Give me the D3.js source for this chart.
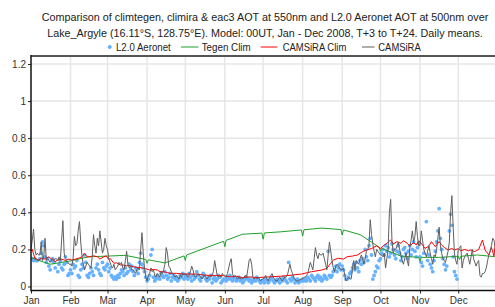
<!DOCTYPE html>
<html>
<head>
<meta charset="utf-8">
<script src="https://cdn.jsdelivr.net/npm/d3@7"></script>
<style>
  body { margin: 0; background: #ffffff; }
  svg  { display: block; font-family: "Liberation Sans", Arial, Helvetica, sans-serif; }
</style>
</head>
<body>
<svg id="chart" width="495" height="307"></svg>
<script>
// ---- chart text ----
const titleLines = [
  "Comparison of climtegen, climira & eac3 AOT at 550nm and L2.0 Aeronet AOT at 500nm over",
  "Lake_Argyle (16.11°S, 128.75°E). Model: 00UT, Jan - Dec 2008, T+3 to T+24. Daily means."
];
const seriesNames = ["L2.0 Aeronet", "Tegen Clim", "CAMSiRA Clim", "CAMSiRA"];
const monthLabels = ["Jan","Feb","Mar","Apr","May","Jun","Jul","Aug","Sep","Oct","Nov","Dec"];
const yTicks = [0, 0.2, 0.4, 0.6, 0.8, 1, 1.2];

// ---- CAMSiRA daily means, 1 Jan .. 31 Dec 2008 (one row per month) ----
const camsira = [
  0.20,0.25,0.31,0.20,0.17,0.18,0.17,0.17,0.24,0.14,0.16,0.26,0.14,0.15,0.14,0.13,0.14,0.15,0.14,0.15,0.15,0.14,0.16,0.14,0.25,0.355,0.18,0.15,0.14,0.13,0.12,
  0.12,0.11,0.15,0.27,0.22,0.23,0.30,0.35,0.24,0.16,0.12,0.09,0.11,0.13,0.12,0.11,0.10,0.16,0.28,0.22,0.18,0.26,0.22,0.30,0.24,0.18,0.20,0.26,0.22,
  0.20,0.15,0.13,0.11,0.10,0.12,0.09,0.10,0.11,0.13,0.12,0.13,0.10,0.09,0.14,0.19,0.12,0.10,0.11,0.09,0.09,0.08,0.07,0.09,0.10,0.09,0.20,0.29,0.18,0.10,0.05,
  0.03,0.06,0.07,0.10,0.08,0.09,0.06,0.05,0.07,0.06,0.05,0.08,0.07,0.09,0.12,0.21,0.18,0.11,0.10,0.08,0.07,0.06,0.05,0.06,0.05,0.04,0.06,0.05,0.07,0.06,
  0.07,0.06,0.05,0.06,0.08,0.11,0.09,0.06,0.05,0.06,0.07,0.06,0.05,0.04,0.05,0.06,0.05,0.04,0.05,0.06,0.05,0.06,0.08,0.14,0.10,0.06,0.05,0.06,0.05,0.07,0.06,
  0.06,0.05,0.07,0.10,0.13,0.15,0.07,0.05,0.06,0.05,0.04,0.05,0.04,0.05,0.04,0.05,0.06,0.05,0.09,0.14,0.15,0.12,0.05,0.04,0.05,0.04,0.05,0.04,0.03,0.04,
  0.04,0.05,0.06,0.04,0.03,0.05,0.06,0.07,0.05,0.04,0.03,0.03,0.04,0.05,0.04,0.03,0.04,0.05,0.05,0.06,0.09,0.12,0.09,0.07,0.05,0.04,0.03,0.03,0.03,0.04,0.04,
  0.04,0.05,0.05,0.06,0.07,0.10,0.13,0.11,0.09,0.15,0.21,0.17,0.15,0.18,0.17,0.17,0.18,0.15,0.12,0.09,0.17,0.24,0.19,0.14,0.10,0.08,0.11,0.12,0.11,0.10,0.09,
  0.09,0.10,0.06,0.03,0.04,0.05,0.04,0.04,0.09,0.14,0.09,0.14,0.13,0.12,0.15,0.17,0.15,0.12,0.15,0.19,0.20,0.22,0.36,0.28,0.23,0.19,0.16,0.20,0.19,0.18,
  0.17,0.17,0.16,0.18,0.10,0.15,0.20,0.40,0.47,0.25,0.18,0.20,0.20,0.22,0.24,0.20,0.17,0.14,0.12,0.15,0.18,0.14,0.11,0.21,0.25,0.30,0.24,0.27,0.35,0.27,0.22,
  0.22,0.30,0.25,0.20,0.18,0.16,0.19,0.22,0.18,0.15,0.12,0.17,0.16,0.20,0.26,0.32,0.22,0.18,0.15,0.14,0.13,0.16,0.19,0.24,0.40,0.49,0.32,0.18,0.14,0.12,
  0.20,0.21,0.22,0.10,0.14,0.16,0.17,0.18,0.15,0.12,0.16,0.20,0.15,0.13,0.11,0.13,0.14,0.06,0.05,0.07,0.07,0.08,0.10,0.14,0.17,0.19,0.22,0.26,0.25,0.21,0.24
];

// ---- L2.0 Aeronet daily means from 1 Jan (null = no obs, none in Dec) ----
const aeronet = [
  null,0.15,0.14,0.15,0.14,0.14,null,0.15,0.18,0.24,0.22,0.16,0.13,0.15,0.11,0.09,0.14,0.15,0.13,0.10,null,0.08,0.12,0.14,0.10,0.09,0.12,0.16,0.13,0.06,0.07,
  0.09,0.07,0.12,0.10,0.11,0.14,0.06,0.05,0.09,0.12,0.10,0.17,0.13,0.06,0.05,0.07,0.10,0.08,0.06,null,0.10,0.12,0.09,0.07,0.06,0.13,0.10,0.09,0.11,
  0.12,0.08,0.10,0.06,0.05,0.04,0.05,0.04,0.06,0.05,0.07,0.09,0.08,0.06,0.10,0.07,0.08,0.12,0.09,0.11,0.08,0.06,0.10,0.09,0.07,0.13,0.18,0.12,0.10,0.08,0.05,
  0.03,0.04,0.06,0.17,0.20,0.05,0.03,0.04,0.06,0.05,0.04,0.07,0.06,0.05,0.08,0.06,0.04,0.05,0.07,0.03,0.05,0.06,0.04,0.05,0.03,0.04,0.06,0.05,0.07,0.04,
  0.05,0.06,0.04,0.07,0.05,0.03,0.06,0.04,0.05,0.08,0.06,0.04,0.03,0.05,0.07,0.06,0.04,0.03,0.05,0.04,0.06,0.02,0.04,0.05,0.03,0.04,0.06,0.05,0.02,0.03,0.04,
  0.04,0.03,0.05,0.04,0.06,0.04,0.03,0.05,0.04,0.03,0.04,0.05,0.03,0.04,0.02,0.03,0.04,0.05,0.04,0.03,0.04,0.02,0.03,0.04,0.03,0.05,0.04,0.03,0.02,0.03,
  0.03,0.02,0.04,0.03,0.02,0.03,0.04,0.05,0.03,0.02,0.03,0.04,0.03,0.02,0.04,0.03,0.05,0.04,0.03,0.02,0.13,0.04,0.03,0.05,0.04,0.02,0.03,0.04,0.02,0.03,0.03,
  0.04,0.03,0.04,0.03,0.05,0.04,0.03,0.06,0.05,0.04,0.03,0.05,0.06,0.04,0.05,0.03,0.04,0.06,0.05,0.04,0.19,0.06,0.05,0.06,0.08,0.09,0.11,0.08,0.10,0.12,0.09,
  0.11,0.09,0.06,0.04,0.04,0.05,0.07,0.08,0.10,0.12,0.09,0.13,0.10,0.08,0.14,0.12,0.15,0.13,0.20,0.16,0.14,0.22,0.26,0.17,0.04,0.06,0.08,0.11,0.10,0.14,
  0.15,0.18,0.20,0.17,0.22,0.19,0.21,0.16,0.18,0.23,0.20,0.17,0.15,0.19,0.22,0.18,0.14,0.16,0.20,0.21,0.18,0.15,0.19,0.22,0.17,0.20,0.24,0.19,0.16,0.21,0.23,
  0.16,0.13,0.11,0.18,null,0.35,0.14,0.17,0.12,0.10,0.08,0.14,0.19,0.24,0.30,0.42,0.26,0.20,0.15,0.12,0.09,0.11,null,0.30,0.39,0.33,0.16,0.08,0.06,0.04
];

// ---- CAMSiRA Clim, read at day-of-year positions ----
const climDays = [0,1,3,6,8,11,14,16,19,21,24,27,29,32,35,37,40,42,44,46,49,52,54,57,59,61,62,65,67,70,72,75,78,80,83,85,88,91,93,96,99,101,104,106,109,114,119,125,130,135,140,146,151,156,161,166,172,177,182,189,197,205,212,220,228,232,235,237,241,245,248,252,256,260,263,267,271,274,277,279,282,284,287,290,292,295,297,300,302,304,307,309,312,314,317,320,322,324,327,330,332,335,337,340,343,345,348,351,354,356,359,361,363,364,365];
const climVals = [0.19,0.20,0.152,0.143,0.152,0.148,0.16,0.148,0.134,0.143,0.148,0.14,0.148,0.143,0.148,0.152,0.16,0.179,0.16,0.16,0.166,0.16,0.148,0.16,0.165,0.145,0.152,0.125,0.128,0.116,0.116,0.112,0.112,0.107,0.103,0.103,0.098,0.094,0.089,0.092,0.089,0.08,0.08,0.076,0.071,0.071,0.067,0.067,0.067,0.062,0.06,0.06,0.058,0.052,0.055,0.048,0.052,0.048,0.05,0.053,0.056,0.062,0.067,0.08,0.089,0.098,0.125,0.143,0.152,0.148,0.161,0.164,0.17,0.188,0.197,0.205,0.219,0.205,0.224,0.233,0.251,0.229,0.242,0.233,0.247,0.233,0.219,0.237,0.224,0.247,0.224,0.205,0.219,0.242,0.215,0.242,0.224,0.211,0.197,0.205,0.197,0.204,0.193,0.2,0.193,0.197,0.188,0.2,0.251,0.197,0.17,0.211,0.164,0.23,0.19];

// ---- Tegen Clim, read at day-of-year positions ----
const tegenDays = [0,15,31,45,60,74,90,91,92,105,120,121,122,151,152,153,166,181,182,183,196,212,213,214,228,243,244,245,258,273,274,275,290,304,305,306,320,335,336,337,350,365];
const tegenVals = [0.155,0.12,0.138,0.16,0.164,0.168,0.146,0.125,0.144,0.127,0.165,0.14,0.17,0.244,0.215,0.249,0.282,0.288,0.255,0.289,0.295,0.305,0.272,0.306,0.315,0.307,0.278,0.305,0.28,0.212,0.19,0.205,0.164,0.157,0.135,0.157,0.157,0.163,0.145,0.163,0.17,0.16];

// ---- layout ----
const W = 495, H = 307;
const plotL = 31, plotT = 56, plotB = 290.5, plotR = 497.8;
const cAero = "#66b2ff", cTegen = "#1fa12a", cClim = "#ff0000", cCams = "#5f5f5f";
const t0 = new Date(2008, 0, 1);
const dayDate = (d)=>{ return d3.timeDay.offset(t0, d); };

const svg = d3.select("#chart");

const x = d3.scaleTime()
            .domain([t0, new Date(2009, 0, 1)])
            .range([plotL, plotR]);
const y = d3.scaleLinear()
            .domain([0, 1.2])
            .range([286.5, 64]);

svg.append("defs").append("clipPath").attr("id", "plotClip")
   .append("rect")
      .attr("x", plotL).attr("y", plotT)
      .attr("width", W - plotL).attr("height", plotB - plotT);

// grid lines
const monthDates = d3.range(12).map((m)=>{ return new Date(2008, m, 1); });
const grid = svg.append("g").attr("stroke", "#e6e6e6").attr("stroke-width", 1.5);
grid.selectAll("line.h").data(yTicks).enter().append("line")
    .attr("x1", plotL).attr("x2", W)
    .attr("y1", (d)=>{ return y(d); }).attr("y2", (d)=>{ return y(d); });
grid.selectAll("line.v").data(monthDates.slice(1)).enter().append("line")
    .attr("x1", (d)=>{ return x(d); }).attr("x2", (d)=>{ return x(d); })
    .attr("y1", plotT).attr("y2", plotB);

// data layers
const plot = svg.append("g").attr("clip-path", "url(#plotClip)");

const aeroPts = aeronet.map((v, i)=>{ return { date: dayDate(i), v: v }; })
                       .filter((d)=>{ return d.v !== null; });
plot.append("g").selectAll("circle")
    .data(aeroPts).enter().append("circle")
      .attr("cx", (d)=>{ return x(d.date); })
      .attr("cy", (d)=>{ return y(d.v); })
      .attr("r", 1.9)
      .attr("fill", cAero);

const line = d3.line()
               .x((d)=>{ return x(d.date); })
               .y((d)=>{ return y(d.v); });

const tegenPts = tegenDays.map((d, i)=>{ return { date: dayDate(d), v: tegenVals[i] }; });
const climPts  = climDays.map((d, i)=>{ return { date: dayDate(d), v: climVals[i] }; });
const camsPts  = camsira.map((v, i)=>{ return { date: dayDate(i), v: v }; });

plot.append("path").datum(tegenPts).attr("d", line)
    .attr("fill", "none").attr("stroke", cTegen).attr("stroke-width", 1);
plot.append("path").datum(climPts).attr("d", line)
    .attr("fill", "none").attr("stroke", cClim).attr("stroke-width", 1);
plot.append("path").datum(camsPts).attr("d", line)
    .attr("fill", "none").attr("stroke", cCams).attr("stroke-width", 1);

// axes
const yAxis = d3.axisLeft(y).tickValues(yTicks).tickSize(3).tickPadding(2)
                .tickFormat((d)=>{ return d3.format("~g")(d); });
const xAxis = d3.axisBottom(x).tickValues(monthDates).tickSize(3).tickPadding(3)
                .tickFormat((d, i)=>{ return monthLabels[i]; });

const gy = svg.append("g").attr("transform", "translate(" + plotL + ",0)").call(yAxis);
const gx = svg.append("g").attr("transform", "translate(0," + plotB + ")").call(xAxis);
[gx, gy].forEach((g)=>{
  g.select(".domain").remove();
  g.selectAll("line").attr("stroke", "#222").attr("stroke-width", 1);
  g.selectAll("text").attr("fill", "#333").style("font-size", "10px")
   .style("font-family", "'Liberation Sans', Arial, sans-serif");
});

// frame
svg.append("line").attr("x1", plotL).attr("x2", W).attr("y1", plotT).attr("y2", plotT)
   .attr("stroke", "#555").attr("stroke-width", 2);
svg.append("line").attr("x1", plotL).attr("x2", W).attr("y1", plotB).attr("y2", plotB)
   .attr("stroke", "#111").attr("stroke-width", 1.5);
svg.append("line").attr("x1", plotL).attr("x2", plotL).attr("y1", plotT - 1).attr("y2", plotB + 0.75)
   .attr("stroke", "#111").attr("stroke-width", 1.5);

// title (widths matched to the reference with textLength)
const titleWidths = [446.6, 435.6];
svg.append("g").selectAll("text").data(titleLines).enter().append("text")
   .attr("x", 265).attr("y", (d, i)=>{ return 21.3 + i * 15.6; })
   .attr("text-anchor", "middle")
   .attr("textLength", (d, i)=>{ return titleWidths[i]; })
   .attr("lengthAdjust", "spacingAndGlyphs")
   .attr("fill", "#222").style("font-size", "10.2px")
   .text((d)=>{ return d; });

// legend
const legY = 47;
const lg = svg.append("g").style("font-size", "10.2px").attr("fill", "#222");
lg.append("circle").attr("cx", 109.7).attr("cy", legY).attr("r", 2).attr("fill", cAero);
lg.append("text").attr("x", 116).attr("y", legY + 3.5)
  .attr("textLength", 54.7).attr("lengthAdjust", "spacingAndGlyphs").text(seriesNames[0]);
[[181, 198.3, cTegen, 201.7, 49, seriesNames[1]],
 [260.7, 277.3, cClim, 282.7, 63.6, seriesNames[2]],
 [362, 374.5, cCams, 378.3, 42.4, seriesNames[3]]].forEach((it)=>{
  lg.append("line").attr("x1", it[0]).attr("x2", it[1]).attr("y1", legY).attr("y2", legY)
    .attr("stroke", it[2]).attr("stroke-width", 1);
  lg.append("text").attr("x", it[3]).attr("y", legY + 3.5)
    .attr("textLength", it[4]).attr("lengthAdjust", "spacingAndGlyphs").text(it[5]);
});
</script>
</body>
</html>
